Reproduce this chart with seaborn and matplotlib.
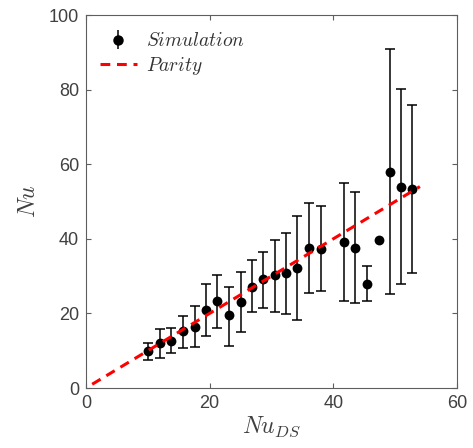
import numpy as np
import pandas as pd
import matplotlib
matplotlib.use("Agg")
import matplotlib.pyplot as plt
import seaborn as sns
from matplotlib.lines import Line2D

# Data
nu_ds = [10.1, 12.0, 13.8, 15.7, 17.6, 19.4, 21.2, 23.1, 25.0, 26.9, 28.6, 30.6,
         32.4, 34.1, 36.1, 38.0, 41.8, 43.5, 45.4, 47.4, 49.2, 50.9, 52.8]
nu = [10.0, 12.0, 12.7, 15.3, 16.4, 20.9, 23.3, 19.5, 23.0, 27.1, 29.1, 30.2,
      30.7, 32.3, 37.4, 37.2, 39.1, 37.6, 28.0, 39.6, 57.9, 54.0, 53.3]
nu_upper = [12.1, 15.7, 16.1, 19.3, 22.0, 27.8, 30.4, 27.1, 31.0, 34.4, 36.5, 39.6,
            41.6, 46.1, 49.5, 48.9, 54.9, 52.5, 32.7, np.nan, 91.0, 80.2, 75.8]
nu_lower = [7.5, 8.1, 9.3, 10.6, 11.0, 14.0, 16.1, 11.3, 14.9, 20.3, 21.5, 20.5,
            19.9, 18.2, 25.4, 26.0, 23.3, 22.7, 23.3, np.nan, 25.1, 28.0, 30.7]
parity_x = [1.0, 54.0]
parity_y = [1.0, 54.0]

df = pd.DataFrame({"x": nu_ds, "y": nu, "hi": nu_upper, "lo": nu_lower})
par = pd.DataFrame({"x": parity_x, "y": parity_y})

sns.set_theme(style="ticks")
plt.rcParams["font.family"] = ["Liberation Sans", "DejaVu Sans"]
plt.rcParams["mathtext.fontset"] = "cm"

TXT = "#404040"
AX = "#5e5e5e"

fig = plt.figure(figsize=(4.73, 4.48), dpi=100)
ax = fig.add_axes([86/473, 1-388/448, (457-86)/473, (388-15)/448])

yerr = np.array([df["y"] - df["lo"], df["hi"] - df["y"]])
ax.errorbar(df["x"], df["y"], yerr=yerr, fmt="none", ecolor="black",
            elinewidth=1.1, capsize=3.5, capthick=1.1, zorder=2)
sns.scatterplot(data=df, x="x", y="y", ax=ax, color="black", s=50,
                edgecolor="black", linewidth=0, zorder=3, legend=False)
sns.lineplot(data=par, x="x", y="y", ax=ax, color="#ff0000", linewidth=2.2,
             zorder=4, legend=False)
ax.lines[-1].set_linestyle((0, (3.2, 2.2)))

ax.set_xlim(0, 60)
ax.set_ylim(0, 100)
ax.set_xticks([0, 20, 40, 60])
ax.set_yticks([0, 20, 40, 60, 80, 100])
ax.tick_params(direction="in", top=True, right=True, length=3.5, width=0.8,
               colors=AX, labelsize=13, labelcolor=TXT, pad=5)
for s in ax.spines.values():
    s.set_color(AX)
    s.set_linewidth(0.8)

ax.set_xlabel(r"$Nu_{DS}$", fontsize=17, color=TXT, labelpad=2)
ax.set_ylabel(r"$Nu$", fontsize=17, color=TXT, labelpad=6)

h_sim = ax.errorbar([], [], yerr=[], fmt="o", color="black", markersize=6.5,
                    capsize=3.5, elinewidth=1.1)
h_par = Line2D([], [], color="#ff0000", linewidth=2.2, linestyle=(0, (3.2, 2.2)))
leg = ax.legend([h_sim, h_par], [r"$\mathit{Simulation}$", r"$\mathit{Parity}$"],
                loc="upper left", frameon=False, fontsize=14, handlelength=1.9,
                handletextpad=0.5, borderaxespad=0.3, labelspacing=0.25,
                bbox_to_anchor=(0.0, 0.99))
for t in leg.get_texts():
    t.set_color("#333333")

fig.savefig("out.png", dpi=100)
